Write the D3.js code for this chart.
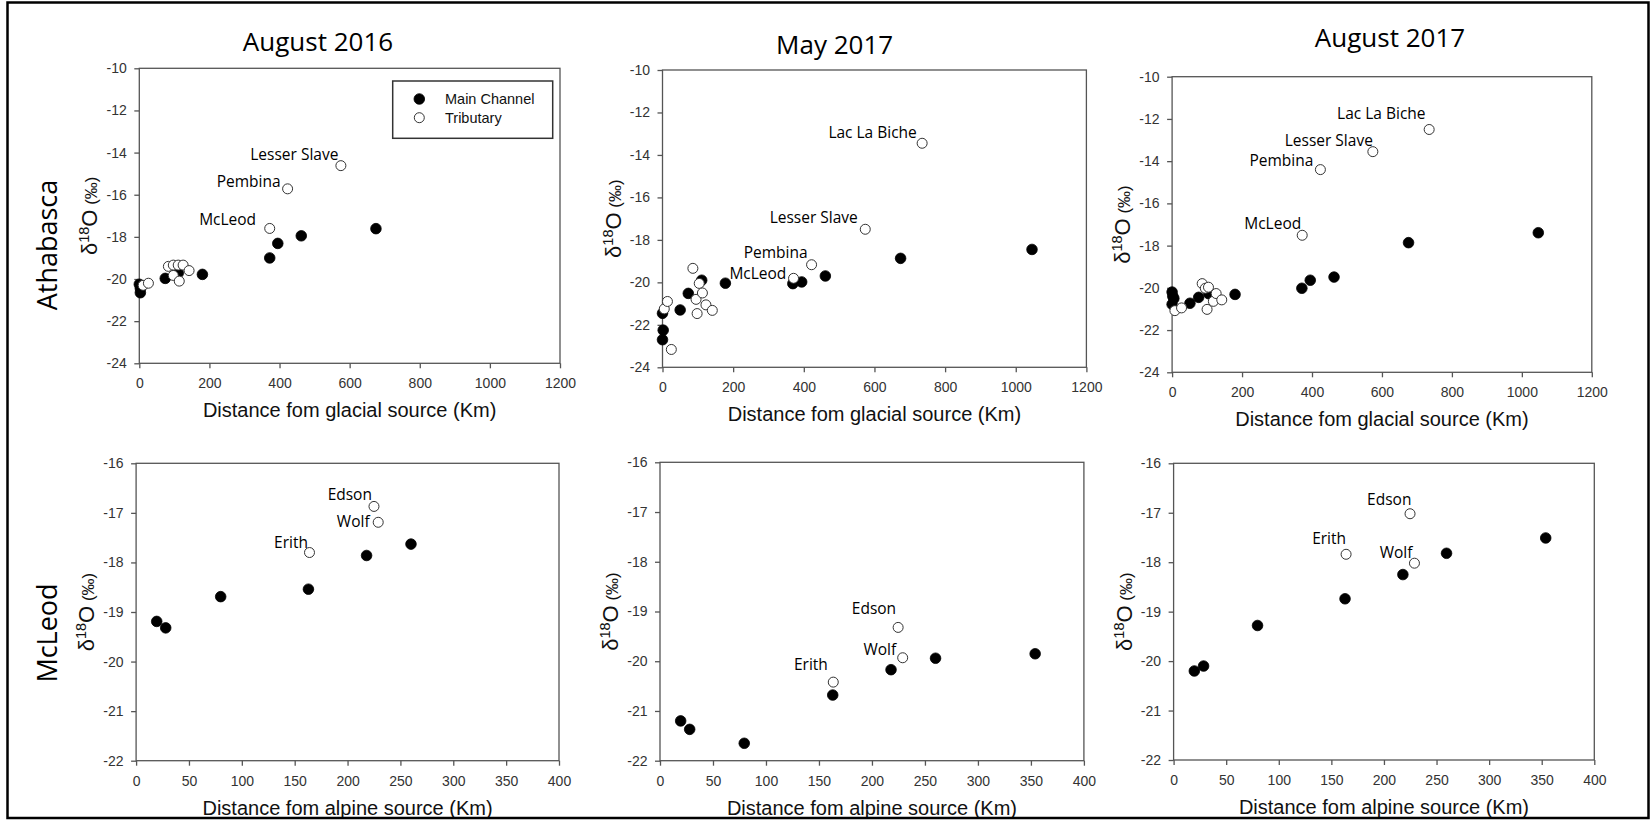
<!DOCTYPE html>
<html>
<head>
<meta charset="utf-8">
<script src="https://cdn.jsdelivr.net/npm/d3@7"></script>
<style>
  html, body { margin: 0; padding: 0; background: #fff; }
  svg { display: block; }
</style>
</head>
<body>
<svg id="fig" width="1652" height="820"></svg>
<script>
// ---- tick values ----
const glacialTicksX = [0, 200, 400, 600, 800, 1000, 1200];
const glacialTicksY = [-24, -22, -20, -18, -16, -14, -12, -10];
const alpineTicksX = [0, 50, 100, 150, 200, 250, 300, 350, 400];
const alpineTicksY = [-22, -21, -20, -19, -18, -17, -16];

// ---- text ----
const seasons = ["August 2016", "May 2017", "August 2017"];
const rivers = ["Athabasca", "McLeod"];
const xTitles = ["Distance fom glacial source (Km)", "Distance fom alpine source (Km)"];
const seriesNames = ["Main Channel", "Tributary"];

// ---- Athabasca: [distance from glacial source (km), δ18O (‰), name] ----
const athMainAug2016 = [[0, -20.25], [3, -20.45], [3, -20.65], [74, -19.97], [111, -19.72], [180, -19.78],
  [372, -19.0], [395, -18.31], [462, -17.95], [675, -17.61]];
const athTribAug2016 = [[11, -20.3], [26, -20.2], [83, -19.4], [97, -19.34], [111, -19.34], [125, -19.34],
  [142, -19.6], [97, -19.83], [114, -20.1], [372, -17.6, "McLeod"], [423, -15.72, "Pembina"],
  [575, -14.62, "Lesser Slave"]];

const athMainMay2017 = [[0, -21.46], [2, -22.25], [0, -22.7], [50, -21.3], [73, -20.52], [111, -19.9],
  [178, -20.04], [369, -20.06], [394, -19.98], [461, -19.7], [674, -18.87], [1046, -18.45]];
const athTribMay2017 = [[5, -21.25], [14, -20.9], [25, -23.16], [86, -19.34], [95, -20.8], [98, -21.47],
  [104, -20.05], [113, -20.5], [123, -21.06], [141, -21.32], [371, -19.81, "McLeod"],
  [422, -19.17, "Pembina"], [574, -17.5, "Lesser Slave"], [735, -13.45, "Lac La Biche"]];

const athMainAug2017 = [[0, -20.2], [2, -20.4], [5, -20.5], [0, -20.78], [51, -20.73], [76, -20.45],
  [105, -20.28], [180, -20.31], [371, -20.02], [395, -19.64], [463, -19.49], [676, -17.86], [1047, -17.39]];
const athTribAug2017 = [[8, -21.08], [27, -20.95], [86, -19.8], [95, -20.02], [104, -19.97], [118, -20.64],
  [100, -21.02], [126, -20.27], [142, -20.57], [372, -17.51, "McLeod"], [424, -14.4, "Pembina"],
  [574, -13.55, "Lesser Slave"], [735, -12.5, "Lac La Biche"]];

// ---- McLeod: [distance from alpine source (km), δ18O (‰), name] ----
const mclMainAug2016 = [[19.5, -19.19], [28, -19.32], [80, -18.69], [163, -18.54], [218, -17.86], [260, -17.63]];
const mclTribAug2016 = [[164, -17.8, "Erith"], [225, -16.87, "Edson"], [229, -17.19, "Wolf"]];

const mclMainMay2017 = [[19.5, -21.2], [28, -21.37], [79.5, -21.65], [163, -20.68], [218, -20.17],
  [260, -19.94], [354, -19.85]];
const mclTribMay2017 = [[163.5, -20.42, "Erith"], [224.7, -19.32, "Edson"], [229, -19.93, "Wolf"]];

const mclMainAug2017 = [[19.7, -20.2], [28.5, -20.1], [79.8, -19.28], [163, -18.74], [218, -18.25],
  [259.5, -17.82], [353.8, -17.51]];
const mclTribAug2017 = [[164, -17.84, "Erith"], [224.8, -17.02, "Edson"], [229, -18.02, "Wolf"]];

// ---- panel geometry and styling ----
const ARIAL = "'Liberation Sans', Arial, sans-serif";
const HUMANIST = "'Open Sans', 'Noto Sans', sans-serif";

const panels = [
  { row: 0, col: 0, box: [139.3, 560, 68.3, 363.3], titleAt: [318, 51], legend: true,
    main: athMainAug2016, trib: athTribAug2016,
    offs: { "McLeod": [-13.6, -3], "Pembina": [-7, -2.3], "Lesser Slave": [-2.5, -5.7] } },
  { row: 0, col: 1, box: [662.5, 1086.4, 70, 367.3], titleAt: [834.6, 54],
    main: athMainMay2017, trib: athTribMay2017,
    offs: { "McLeod": [-7.2, 1], "Pembina": [-4, -7], "Lesser Slave": [-7.5, -6.6], "Lac La Biche": [-5.3, -5.6] } },
  { row: 0, col: 2, box: [1172.1, 1591.8, 76.7, 372.3], titleAt: [1390, 47],
    main: athMainAug2017, trib: athTribAug2017,
    offs: { "McLeod": [-1, -6], "Pembina": [-7, -4], "Lesser Slave": [0, -6], "Lac La Biche": [-3.6, -10] } },
  { row: 1, col: 0, box: [136.1, 559, 463.3, 760.7],
    main: mclMainAug2016, trib: mclTribAug2016,
    offs: { "Edson": [-2, -6.3], "Wolf": [-8.6, 5], "Erith": [-1.5, -4.7] } },
  { row: 1, col: 1, box: [660, 1083.9, 462.3, 760.7],
    main: mclMainMay2017, trib: mclTribMay2017,
    offs: { "Edson": [-2, -13.7], "Wolf": [-6.5, -3], "Erith": [-5.4, -12] } },
  { row: 1, col: 2, box: [1173.6, 1594.3, 463.3, 760],
    main: mclMainAug2017, trib: mclTribAug2017,
    offs: { "Edson": [1.4, -8.7], "Wolf": [-2, -5.3], "Erith": [0, -10.3] } }
];

const riverLabelAt = [[57, 245], [57, 633]];

const svg = d3.select("#fig");
svg.append("rect").attr("width", 1652).attr("height", 820).attr("fill", "#fff");

panels.forEach(p => {
  const [left, right, top, bottom] = p.box;
  const ticksX = p.row === 0 ? glacialTicksX : alpineTicksX;
  const ticksY = p.row === 0 ? glacialTicksY : alpineTicksY;
  const x = d3.scaleLinear().domain(d3.extent(ticksX)).range([left, right]);
  const y = d3.scaleLinear().domain(d3.extent(ticksY)).range([bottom, top]);
  const g = svg.append("g");

  // plot frame
  g.append("rect").attr("x", left).attr("y", top)
    .attr("width", right - left).attr("height", bottom - top)
    .attr("fill", "none").attr("stroke", "#555").attr("stroke-width", 1.3);

  const yAxis = g.append("g").attr("transform", `translate(${left},0)`)
    .call(d3.axisLeft(y).tickValues(ticksY).tickSize(5).tickPadding(7.5).tickFormat(d3.format("d")));
  const xAxis = g.append("g").attr("transform", `translate(0,${bottom})`)
    .call(d3.axisBottom(x).tickValues(ticksX).tickSize(5).tickPadding(10).tickFormat(d3.format("d")));
  [xAxis, yAxis].forEach(a => {
    a.select(".domain").remove();
    a.selectAll(".tick line").attr("stroke", "#555").attr("stroke-width", 1.3);
    a.selectAll(".tick text").attr("fill", "#333")
      .style("font-family", ARIAL).style("font-size", "14px");
  });
  // plain hyphen for negative tick labels
  yAxis.selectAll(".tick text").text(d => String(d).replace("\u2212", "-"));

  // axis titles
  g.append("text").attr("x", (left + right) / 2).attr("y", bottom + 54)
    .attr("text-anchor", "middle").attr("fill", "#111")
    .style("font-family", ARIAL).style("font-size", "20px")
    .text(xTitles[p.row]);

  const yl = g.append("text")
    .attr("transform", `translate(${left - 42},${(top + bottom) / 2}) rotate(-90)`)
    .attr("text-anchor", "middle").attr("fill", "#111").style("font-family", ARIAL);
  yl.append("tspan").style("font-size", "22px").text("δ");
  yl.append("tspan").style("font-size", "14.5px").attr("dy", -8).text("18");
  yl.append("tspan").style("font-size", "22px").attr("dy", 8).text("O");
  yl.append("tspan").style("font-size", "17px").text(" (‰)");

  if (p.titleAt) {
    g.append("text").attr("x", p.titleAt[0]).attr("y", p.titleAt[1])
      .attr("text-anchor", "middle").attr("fill", "#000")
      .style("font-family", HUMANIST).style("font-size", "26px")
      .text(seasons[p.col]);
  }

  // main channel (filled), then tributaries (open) on top
  g.append("g").selectAll("circle").data(p.main).join("circle")
    .attr("cx", d => x(d[0])).attr("cy", d => y(d[1])).attr("r", 5.3)
    .attr("fill", "#000").attr("stroke", "#000").attr("stroke-width", 0.8);
  g.append("g").selectAll("circle").data(p.trib).join("circle")
    .attr("cx", d => x(d[0])).attr("cy", d => y(d[1])).attr("r", 5)
    .attr("fill", "#fff").attr("stroke", "#333").attr("stroke-width", 1);

  // tributary names
  g.append("g").selectAll("text").data(p.trib.filter(d => d[2])).join("text")
    .attr("x", d => x(d[0]) + p.offs[d[2]][0])
    .attr("y", d => y(d[1]) + p.offs[d[2]][1])
    .attr("text-anchor", "end").attr("fill", "#000")
    .style("font-family", HUMANIST).style("font-size", "15.5px")
    .text(d => d[2]);

  if (p.legend) {
    const lg = g.append("g");
    lg.append("rect").attr("x", right - 167.3).attr("y", top + 12.7)
      .attr("width", 160).attr("height", 57.3)
      .attr("fill", "#fff").attr("stroke", "#333").attr("stroke-width", 1.5);
    const lx = right - 140.7;
    seriesNames.forEach((name, i) => {
      const cy = top + 30.7 + i * 18.7;
      lg.append("circle").attr("cx", lx).attr("cy", cy).attr("r", i === 0 ? 5.3 : 5)
        .attr("fill", i === 0 ? "#000" : "#fff").attr("stroke", i === 0 ? "#000" : "#333")
        .attr("stroke-width", i === 0 ? 0.8 : 1);
      lg.append("text").attr("x", lx + 25.7).attr("y", cy + 4.8).attr("fill", "#111")
        .style("font-family", ARIAL).style("font-size", "14.5px").text(name);
    });
  }
});

// river row labels
rivers.forEach((r, i) => {
  svg.append("text")
    .attr("transform", `translate(${riverLabelAt[i][0]},${riverLabelAt[i][1]}) rotate(-90)`)
    .attr("text-anchor", "middle").attr("fill", "#000")
    .style("font-family", HUMANIST).style("font-size", "27px")
    .text(r);
});

// outer figure border
svg.append("rect").attr("x", 7.5).attr("y", 2.5).attr("width", 1641).attr("height", 815.5)
  .attr("fill", "none").attr("stroke", "#000").attr("stroke-width", 2.5);
</script>
</body>
</html>
